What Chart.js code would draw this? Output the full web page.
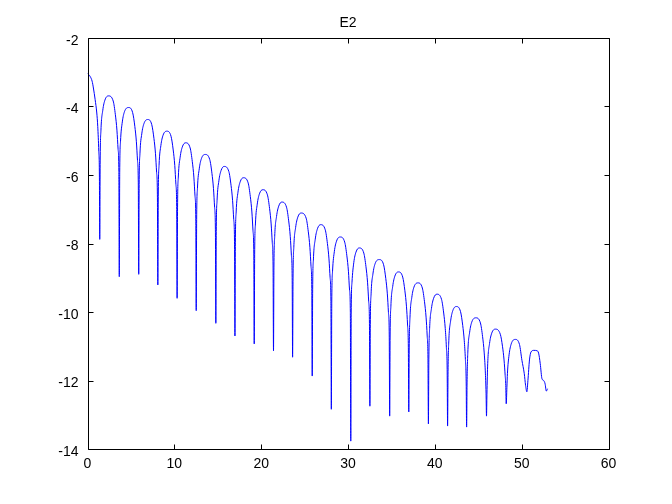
<!DOCTYPE html>
<html>
<head>
<meta charset="utf-8">
<script src="https://cdn.jsdelivr.net/npm/chart.js@4"></script>
<style>
  body { margin: 0; background: #fff; }
  canvas { display: block; }
</style>
</head>
<body>
<canvas id="myChart" width="672" height="504"></canvas>
<script>
const title = 'E2';
const xTicks = [0, 10, 20, 30, 40, 50, 60];
const yTicks = [-14, -12, -10, -8, -6, -4, -2];

// one line per arch
const xs = [
    0, 0.3, 0.53, 0.68, 0.88, 1.07, 1.18, 1.3, 1.37, 1.41,
    1.46, 1.55, 1.76, 2.01, 2.41, 2.96, 3.21, 3.39, 3.52, 3.61, 3.66,
    3.71, 3.80, 4.01, 4.26, 4.72, 5.20, 5.45, 5.63, 5.76, 5.85, 5.90,
    5.95, 6.04, 6.25, 6.50, 6.94, 7.40, 7.65, 7.83, 7.96, 8.05, 8.10,
    8.15, 8.24, 8.45, 8.70, 9.13, 9.62, 9.87, 10.05, 10.18, 10.27, 10.32,
    10.37, 10.46, 10.67, 10.92, 11.30, 11.82, 12.07, 12.25, 12.38, 12.47, 12.52,
    12.57, 12.66, 12.87, 13.12, 13.55, 14.08, 14.33, 14.51, 14.64, 14.73, 14.78,
    14.83, 14.92, 15.13, 15.38, 15.74, 16.28, 16.53, 16.71, 16.84, 16.93, 16.98,
    17.03, 17.12, 17.33, 17.58, 17.96, 18.50, 18.75, 18.93, 19.06, 19.15, 19.20,
    19.25, 19.34, 19.55, 19.80, 20.19, 20.72, 20.97, 21.15, 21.28, 21.37, 21.42,
    21.47, 21.56, 21.77, 22.02, 22.38, 22.92, 23.17, 23.35, 23.48, 23.57, 23.62,
    23.67, 23.76, 23.97, 24.22, 24.60, 25.18, 25.43, 25.61, 25.74, 25.83, 25.88,
    25.93, 26.02, 26.23, 26.48, 26.85, 27.38, 27.63, 27.81, 27.94, 28.03, 28.08,
    28.13, 28.22, 28.43, 28.68, 29.10, 29.62, 29.87, 30.05, 30.18, 30.27, 30.32,
    30.37, 30.46, 30.67, 30.92, 31.30, 31.82, 32.07, 32.25, 32.38, 32.47, 32.52,
    32.57, 32.66, 32.87, 33.12, 33.60, 34.10, 34.35, 34.53, 34.66, 34.75, 34.80,
    34.85, 34.94, 35.15, 35.40, 35.80, 36.30, 36.55, 36.73, 36.86, 36.95, 37.00,
    37.05, 37.14, 37.35, 37.60, 38.05, 38.56, 38.81, 38.99, 39.12, 39.21, 39.26,
    39.31, 39.40, 39.61, 39.86, 40.24, 40.77, 41.02, 41.20, 41.33, 41.42, 41.47,
    41.52, 41.61, 41.82, 42.07, 42.47, 42.96, 43.21, 43.39, 43.52, 43.61, 43.66,
    43.71, 43.80, 44.01, 44.26, 44.72, 45.25, 45.50, 45.68, 45.81, 45.90, 45.95,
    46.00, 46.09, 46.30, 46.55, 46.96, 47.54, 47.79, 47.97, 48.10, 48.17, 48.22,
    48.30, 48.36, 48.55, 48.80, 49.26, 49.75, 50.03, 50.30, 50.45, 50.60,
    50.72, 50.90, 51.07, 51.40, 51.76, 51.95, 52.14, 52.34, 52.53, 52.70, 52.84, 52.98
];

const ys = [
    -3.03, -3.12, -3.26, -3.46, -3.8, -4.19, -4.58, -5.31, -6.0, -7.88,
    -5.59, -4.69, -4.11, -3.81, -3.69, -3.84, -4.24, -4.69, -5.24, -5.89, -8.97,
    -5.93, -5.03, -4.45, -4.15, -4.03, -4.18, -4.58, -5.03, -5.58, -6.23, -8.90,
    -6.28, -5.38, -4.80, -4.50, -4.38, -4.53, -4.93, -5.38, -5.93, -6.58, -9.21,
    -6.62, -5.72, -5.14, -4.84, -4.72, -4.87, -5.27, -5.72, -6.27, -6.92, -9.60,
    -6.96, -6.06, -5.48, -5.18, -5.06, -5.21, -5.61, -6.06, -6.61, -7.26, -9.96,
    -7.30, -6.40, -5.82, -5.52, -5.40, -5.55, -5.95, -6.40, -6.95, -7.60, -10.33,
    -7.65, -6.75, -6.17, -5.87, -5.75, -5.90, -6.30, -6.75, -7.30, -7.95, -10.70,
    -7.98, -7.08, -6.50, -6.20, -6.08, -6.23, -6.63, -7.08, -7.63, -8.28, -10.93,
    -8.33, -7.43, -6.85, -6.55, -6.43, -6.58, -6.98, -7.43, -7.98, -8.63, -11.13,
    -8.69, -7.79, -7.21, -6.91, -6.79, -6.94, -7.34, -7.79, -8.34, -8.99, -11.32,
    -9.01, -8.11, -7.53, -7.23, -7.11, -7.26, -7.66, -8.11, -8.66, -9.31, -11.87,
    -9.35, -8.45, -7.87, -7.57, -7.45, -7.60, -8.00, -8.45, -9.00, -9.65, -12.84,
    -9.71, -8.81, -8.23, -7.93, -7.81, -7.96, -8.36, -8.81, -9.36, -10.01, -13.77,
    -10.03, -9.13, -8.55, -8.25, -8.13, -8.28, -8.68, -9.13, -9.68, -10.33, -12.75,
    -10.37, -9.47, -8.89, -8.59, -8.47, -8.62, -9.02, -9.47, -10.02, -10.67, -13.04,
    -10.73, -9.83, -9.25, -8.95, -8.83, -8.98, -9.38, -9.83, -10.38, -11.03, -12.92,
    -11.05, -10.15, -9.57, -9.27, -9.15, -9.30, -9.70, -10.15, -10.70, -11.35, -13.27,
    -11.38, -10.48, -9.90, -9.60, -9.48, -9.63, -10.03, -10.48, -11.03, -11.68, -13.33,
    -11.74, -10.84, -10.26, -9.96, -9.84, -9.99, -10.39, -10.84, -11.39, -12.04, -13.36,
    -12.07, -11.17, -10.59, -10.29, -10.17, -10.32, -10.72, -11.17, -11.72, -12.37, -13.04,
    -12.40, -11.50, -10.92, -10.62, -10.50, -10.65, -11.00, -11.40, -11.85, -12.15, -12.68,
    -12.20, -11.80, -11.25, -10.93, -10.80, -10.95, -11.41, -11.80, -12.14, -12.33,
    -12.00, -11.40, -11.17, -11.12, -11.13, -11.20, -11.51, -11.95, -12.00, -12.10, -12.31, -12.24
];

Chart.defaults.font.family = "'Liberation Sans', Arial, sans-serif";
Chart.defaults.font.size = 14;
Chart.defaults.color = '#000';

// matlab style box with ticks pointing inward, plus the title
const boxPlugin = {
    id: 'box',
    afterDraw(chart) {
        const ctx = chart.ctx;
        const area = chart.chartArea;
        const sx = chart.scales.x;
        const sy = chart.scales.y;
        const l = Math.round(area.left) + 0.5;
        const r = Math.round(area.right) + 0.5;
        const t = Math.round(area.top) + 0.5;
        const b = Math.round(area.bottom) + 0.5;
        const len = 5;

        ctx.save();
        ctx.strokeStyle = '#000';
        ctx.lineWidth = 1;
        ctx.beginPath();
        ctx.rect(l, t, r - l, b - t);

        xTicks.forEach(v => {
            const px = Math.round(sx.getPixelForValue(v)) + 0.5;
            ctx.moveTo(px, b); ctx.lineTo(px, b - len);
            ctx.moveTo(px, t); ctx.lineTo(px, t + len);
        });
        yTicks.forEach(v => {
            const py = Math.round(sy.getPixelForValue(v)) + 0.5;
            ctx.moveTo(l, py); ctx.lineTo(l + len, py);
            ctx.moveTo(r, py); ctx.lineTo(r - len, py);
        });
        ctx.stroke();

        ctx.fillStyle = '#000';
        ctx.font = "14px 'Liberation Sans', Arial, sans-serif";
        ctx.textAlign = 'center';
        ctx.textBaseline = 'alphabetic';
        ctx.fillText(title, (area.left + area.right) / 2, 26.5);
        ctx.restore();
    }
};

const ctx = document.getElementById('myChart');

new Chart(ctx, {
    type: 'line',
    data: {
        datasets: [{
            data: xs.map((x, i) => ({ x: x, y: ys[i] })),
            borderColor: '#0000ff',
            borderWidth: 1,
            pointRadius: 0,
            fill: false,
            cubicInterpolationMode: 'monotone'
        }]
    },
    options: {
        responsive: false,
        animation: false,
        events: [],
        layout: {
            padding: { top: 38, right: 63.5, left: 0, bottom: 0 }
        },
        plugins: {
            legend: { display: false },
            title: { display: false },
            tooltip: { enabled: false }
        },
        scales: {
            x: {
                type: 'linear',
                min: 0,
                max: 60,
                grid: { display: false, drawTicks: false },
                border: { display: false },
                ticks: { stepSize: 10, padding: 7, maxRotation: 0 },
                afterFit(scale) { scale.height = 55; }
            },
            y: {
                type: 'linear',
                min: -14,
                max: -2,
                grid: { display: false, drawTicks: false },
                border: { display: false },
                ticks: { stepSize: 2, padding: 9, labelOffset: 3 },
                afterFit(scale) { scale.width = 87.5; }
            }
        }
    },
    plugins: [boxPlugin]
});
</script>
</body>
</html>
